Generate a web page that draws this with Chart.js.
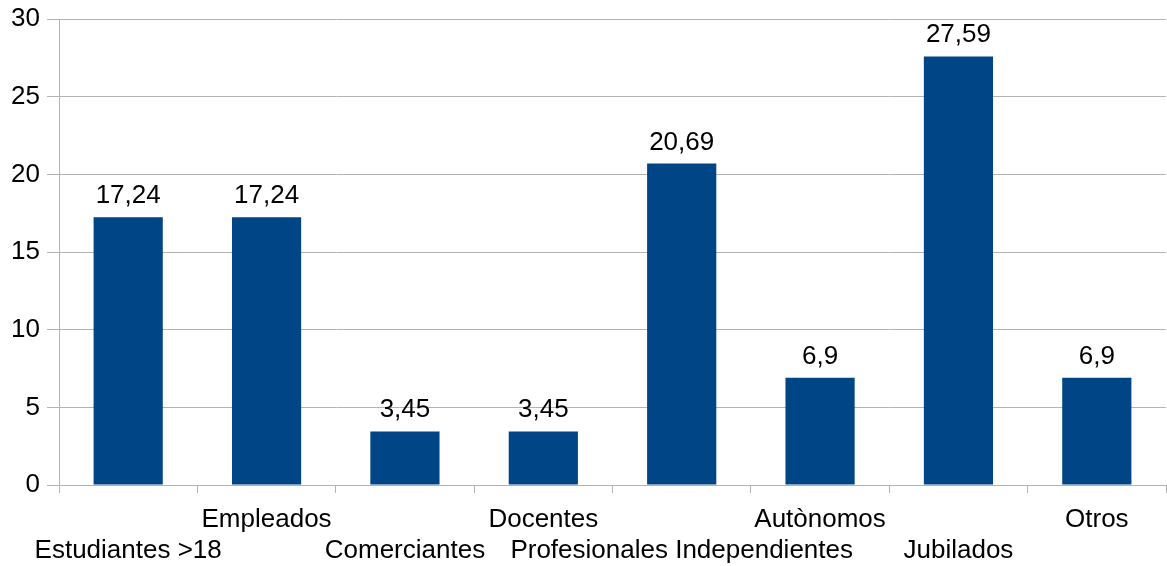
<!DOCTYPE html>
<html>
<head>
<meta charset="utf-8">
<script src="https://cdn.jsdelivr.net/npm/chart.js@4/dist/chart.umd.min.js"></script>
<style>
  html, body { margin: 0; padding: 0; background: #fff; }
  #wrap { width: 1167px; height: 566px; }
</style>
</head>
<body>
<div id="wrap"><canvas id="chart" width="1167" height="566"></canvas></div>
<script>
// data
const categories = ['Estudiantes >18', 'Empleados', 'Comerciantes', 'Docentes',
  'Profesionales Independientes', 'Autònomos', 'Jubilados', 'Otros'];
const values = [17.24, 17.24, 3.45, 3.45, 20.69, 6.9, 27.59, 6.9];
const yTicks = [0, 5, 10, 15, 20, 25, 30];

// staggered labels: even on the 2nd line, odd on the 1st
const staggered = categories.map(function (c, i) { return i % 2 ? [c, ''] : ['', c]; });

const gridColor = '#b3b3b3';
const font = { family: '"Liberation Sans", Arial, sans-serif', size: 26 };

const valueLabels = {
  id: 'valueLabels',
  afterDatasetsDraw(chart) {
    const ctx = chart.ctx;
    const meta = chart.getDatasetMeta(0);
    ctx.save();
    ctx.font = font.size + 'px ' + font.family;
    ctx.fillStyle = '#000';
    ctx.textAlign = 'center';
    ctx.textBaseline = 'alphabetic';
    meta.data.forEach(function (bar, i) {
      ctx.fillText(String(values[i]).replace('.', ','), bar.x, bar.y - 14);
    });
    ctx.restore();
  }
};

new Chart(document.getElementById('chart').getContext('2d'), {
  type: 'bar',
  data: {
    labels: staggered,
    datasets: [{
      data: values,
      backgroundColor: '#004586',
      categoryPercentage: 1,
      barPercentage: 0.5
    }]
  },
  options: {
    responsive: false,
    animation: false,
    layout: { padding: { top: 19, right: 1, left: 0, bottom: 0 } },
    plugins: { legend: { display: false }, tooltip: { enabled: false } },
    scales: {
      x: {
        offset: true,
        afterFit(scale) { scale.height = 81; },
        grid: { offset: true, drawOnChartArea: false, tickLength: 8, color: gridColor },
        border: { color: gridColor },
        ticks: {
          autoSkip: false, maxRotation: 0, minRotation: 0,
          color: '#000', font: Object.assign({ lineHeight: 1.2 }, font), padding: 11
        }
      },
      y: {
        min: 0, max: 30,
        afterBuildTicks(scale) { scale.ticks = yTicks.map(function (v) { return { value: v }; }); },
        afterFit(scale) { scale.width = 59; scale.paddingTop = 0; scale.paddingBottom = 0; },
        grid: { color: gridColor, tickLength: 12 },
        border: { color: gridColor },
        ticks: { color: '#000', font: font, padding: 7 }
      }
    }
  },
  plugins: [valueLabels]
});
</script>
</body>
</html>
